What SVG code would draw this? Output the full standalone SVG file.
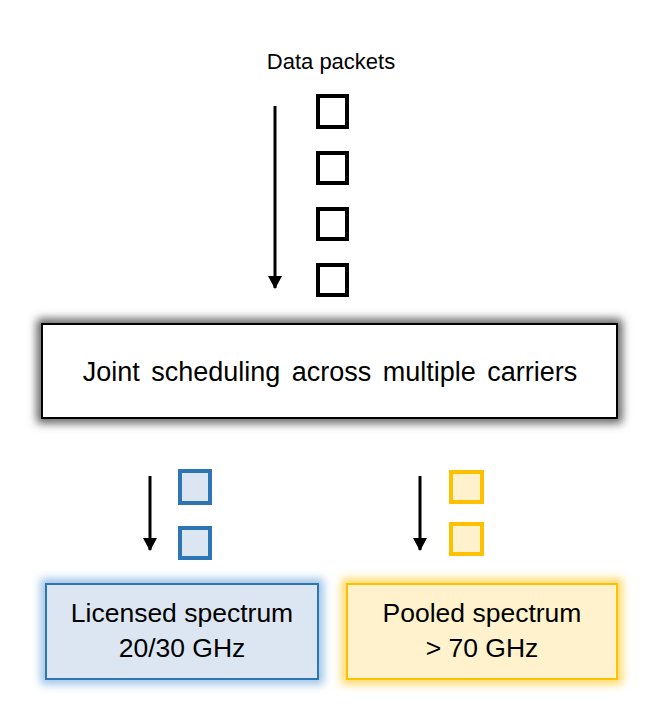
<svg xmlns="http://www.w3.org/2000/svg" width="664" height="727" viewBox="0 0 664 727">
<style>
text{font-family:"Liberation Sans",Arial,sans-serif;fill:#000;text-anchor:middle}
.pk{fill:#fff;stroke:#000;stroke-width:4}
.bl{fill:#dce6f2;stroke:#2e75b6;stroke-width:4}
.yl{fill:#fff2cc;stroke:#ffc000;stroke-width:4}
.arr{stroke:#000;stroke-width:3;fill:none;marker-end:url(#ah)}
</style>
<defs>
<marker id="ah" markerWidth="13" markerHeight="14" refX="12" refY="7" orient="auto" markerUnits="userSpaceOnUse" viewBox="0 0 13 14">
<path d="M0,0 L13,7 L0,14 Z" fill="#000"/>
</marker>
<filter id="glow" x="-20%" y="-40%" width="140%" height="180%"><feGaussianBlur stdDeviation="4"/></filter>
<filter id="glow2" x="-20%" y="-40%" width="140%" height="180%"><feGaussianBlur stdDeviation="5"/></filter>
</defs>
<g id="title"><text x="331" y="69" font-size="22">Data packets</text></g>
<g id="packets">
<rect class="pk" x="318" y="96" width="29" height="31"/>
<rect class="pk" x="318" y="153" width="29" height="30"/>
<rect class="pk" x="318" y="209" width="29" height="30"/>
<rect class="pk" x="318" y="265" width="29" height="30"/>
</g>
<g id="scheduler">
<rect x="42" y="324" width="575" height="94" fill="none" stroke="#555" stroke-width="10" filter="url(#glow2)"/>
<rect x="42" y="324" width="575" height="94" fill="#fff" stroke="#000" stroke-width="2"/>
<text x="330" y="381" font-size="27" word-spacing="4">Joint scheduling across multiple carriers</text>
</g>
<g id="blue-packets">
<rect class="bl" x="180" y="471" width="30" height="32"/>
<rect class="bl" x="180" y="528" width="30" height="30"/>
</g>
<g id="yellow-packets">
<rect class="yl" x="451" y="472" width="31" height="30"/>
<rect class="yl" x="451" y="524" width="31" height="30"/>
</g>
<g id="licensed">
<rect x="46" y="584" width="272" height="95" fill="none" stroke="#9dc3e6" stroke-width="11" filter="url(#glow)"/>
<rect x="46" y="584" width="272" height="95" fill="#dce6f2" stroke="#2e75b6" stroke-width="2"/>
<text x="182" y="622" font-size="26.5">Licensed spectrum</text>
<text x="182" y="657" font-size="26.5">20/30 GHz</text>
</g>
<g id="pooled">
<rect x="347" y="584" width="270" height="95" fill="none" stroke="#ffd966" stroke-width="11" filter="url(#glow)"/>
<rect x="347" y="584" width="270" height="95" fill="#fff2cc" stroke="#ffc000" stroke-width="2"/>
<text x="482" y="622" font-size="26.5">Pooled spectrum</text>
<text x="482" y="657" font-size="26.5">&gt; 70 GHz</text>
</g>
<g id="connectors">
<line class="arr" x1="275" y1="106" x2="275" y2="288"/>
<line class="arr" x1="150" y1="476" x2="150" y2="550"/>
<line class="arr" x1="420" y1="476" x2="420" y2="550"/>
</g>
</svg>
